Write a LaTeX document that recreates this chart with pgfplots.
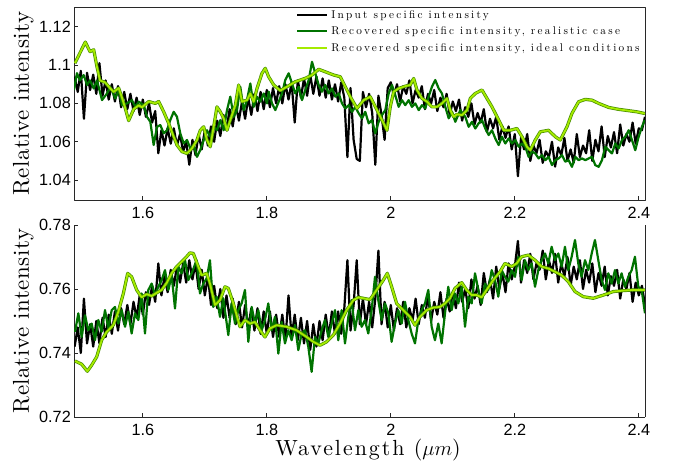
\documentclass[border=0pt]{standalone}
\usepackage{fontspec}
\usepackage{pgfplots}
\usepackage{pgfplotstable}
\pgfplotsset{compat=1.18}
\newfontfamily\tickfont{Liberation Sans}
\newfontfamily\legfont{lmroman10-regular.otf}[LetterSpace=20]
\newfontfamily\xlabfont{lmroman10-regular.otf}[LetterSpace=9]
\newfontfamily\ylabfont{lmroman10-regular.otf}[LetterSpace=2.5]
\definecolor{dkgreen}{RGB}{0,115,0}
\definecolor{ltgreen}{RGB}{165,235,0}
\definecolor{ltedge}{RGB}{70,140,0}
\definecolor{axgray}{RGB}{40,40,40}

\pgfplotstableread{
x y
1.490 1.094
1.495 1.086
1.500 1.097
1.505 1.072
1.510 1.096
1.515 1.087
1.520 1.095
1.525 1.085
1.530 1.101
1.535 1.084
1.540 1.092
1.545 1.082
1.550 1.090
1.555 1.081
1.560 1.089
1.565 1.078
1.570 1.086
1.575 1.077
1.580 1.085
1.585 1.076
1.590 1.083
1.595 1.074
1.600 1.082
1.605 1.073
1.610 1.080
1.615 1.070
1.620 1.076
1.625 1.054
1.630 1.066
1.635 1.058
1.640 1.067
1.645 1.059
1.650 1.067
1.655 1.058
1.660 1.064
1.665 1.055
1.670 1.060
1.675 1.048
1.680 1.061
1.685 1.053
1.690 1.064
1.695 1.056
1.700 1.066
1.705 1.058
1.710 1.068
1.715 1.060
1.720 1.071
1.725 1.063
1.730 1.074
1.735 1.066
1.740 1.077
1.745 1.068
1.750 1.079
1.755 1.071
1.760 1.081
1.765 1.072
1.770 1.083
1.775 1.074
1.780 1.085
1.785 1.076
1.790 1.086
1.795 1.077
1.800 1.087
1.805 1.078
1.810 1.088
1.815 1.080
1.820 1.089
1.825 1.080
1.830 1.090
1.835 1.082
1.840 1.091
1.845 1.070
1.850 1.092
1.855 1.083
1.860 1.093
1.865 1.084
1.870 1.095
1.875 1.085
1.880 1.094
1.885 1.084
1.890 1.093
1.895 1.083
1.900 1.092
1.905 1.082
1.910 1.090
1.915 1.081
1.920 1.091
1.925 1.083
1.930 1.052
1.935 1.088
1.940 1.061
1.945 1.051
1.950 1.050
1.955 1.086
1.960 1.078
1.965 1.085
1.970 1.075
1.975 1.048
1.980 1.084
1.985 1.074
1.990 1.061
1.995 1.088
2.000 1.091
2.005 1.084
2.010 1.090
2.015 1.081
2.020 1.089
2.025 1.085
2.030 1.092
2.035 1.080
2.040 1.087
2.045 1.083
2.050 1.089
2.055 1.077
2.060 1.085
2.065 1.080
2.070 1.087
2.075 1.076
2.080 1.083
2.085 1.078
2.090 1.085
2.095 1.074
2.100 1.081
2.105 1.076
2.110 1.082
2.115 1.071
2.120 1.078
2.125 1.073
2.130 1.080
2.135 1.069
2.140 1.075
2.145 1.070
2.150 1.077
2.155 1.065
2.160 1.072
2.165 1.067
2.170 1.073
2.175 1.061
2.180 1.068
2.185 1.062
2.190 1.068
2.195 1.056
2.200 1.064
2.205 1.042
2.210 1.062
2.215 1.056
2.220 1.064
2.225 1.050
2.230 1.058
2.235 1.054
2.240 1.061
2.245 1.049
2.250 1.055
2.255 1.052
2.260 1.060
2.265 1.047
2.270 1.057
2.275 1.053
2.280 1.062
2.285 1.050
2.290 1.056
2.295 1.049
2.300 1.064
2.305 1.052
2.310 1.058
2.315 1.054
2.320 1.066
2.325 1.050
2.330 1.061
2.335 1.055
2.340 1.068
2.345 1.052
2.350 1.063
2.355 1.057
2.360 1.065
2.365 1.054
2.370 1.069
2.375 1.058
2.380 1.064
2.385 1.060
2.390 1.070
2.395 1.059
2.400 1.067
2.405 1.066
2.410 1.073
}\inputTop

\pgfplotstableread{
x y
1.4890 1.0870
1.4938 1.0958
1.4987 1.0920
1.5046 1.0948
1.5100 1.0896
1.5148 1.0920
1.5208 1.0878
1.5261 1.0920
1.5342 1.0817
1.5422 1.0852
1.5475 1.0887
1.5556 1.0826
1.5611 1.0870
1.5664 1.0791
1.5745 1.0800
1.5825 1.0817
1.5879 1.0782
1.5934 1.0809
1.6014 1.0791
1.6067 1.0730
1.6121 1.0704
1.6175 1.0583
1.6229 1.0678
1.6282 1.0687
1.6337 1.0644
1.6390 1.0660
1.6443 1.0713
1.6498 1.0756
1.6551 1.0730
1.6604 1.0644
1.6659 1.0591
1.6713 1.0609
1.6766 1.0565
1.6821 1.0583
1.6874 1.0521
1.6927 1.0557
1.6982 1.0609
1.7035 1.0660
1.7088 1.0626
1.7143 1.0678
1.7196 1.0660
1.7250 1.0713
1.7304 1.0660
1.7358 1.0765
1.7411 1.0835
1.7466 1.0730
1.7519 1.0765
1.7572 1.0887
1.7627 1.0765
1.7680 1.0817
1.7734 1.0904
1.7788 1.0782
1.7842 1.0835
1.7895 1.0809
1.7950 1.0852
1.8003 1.0800
1.8030 1.0861
1.8084 1.0800
1.8137 1.0765
1.8192 1.0809
1.8245 1.0852
1.8298 1.0922
1.8353 1.0957
1.8406 1.0904
1.8459 1.0852
1.8514 1.0887
1.8567 1.0817
1.8621 1.0870
1.8676 1.0922
1.8729 1.1017
1.8782 1.0957
1.8837 1.0896
1.8890 1.0861
1.8943 1.0896
1.8998 1.0852
1.9051 1.0878
1.9105 1.0835
1.9159 1.0852
1.9213 1.0800
1.9266 1.0774
1.9321 1.0791
1.9374 1.0756
1.9427 1.0782
1.9482 1.0748
1.9535 1.0722
1.9588 1.0756
1.9643 1.0696
1.9696 1.0713
1.9750 1.0644
1.9804 1.0704
1.9858 1.0739
1.9911 1.0765
1.9966 1.0852
2.0019 1.0896
2.0072 1.0843
2.0127 1.0782
2.0180 1.0817
2.0234 1.0791
2.0288 1.0817
2.0342 1.0782
2.0395 1.0800
2.0450 1.0765
2.0503 1.0791
2.0556 1.0774
2.0611 1.0835
2.0664 1.0887
2.0717 1.0922
2.0772 1.0878
2.0825 1.0852
2.0879 1.0782
2.0934 1.0722
2.0987 1.0756
2.1040 1.0704
2.1121 1.0765
2.1201 1.0730
2.1256 1.0678
2.1309 1.0704
2.1363 1.0669
2.1417 1.0696
2.1471 1.0713
2.1524 1.0669
2.1579 1.0635
2.1632 1.0660
2.1685 1.0617
2.1740 1.0583
2.1793 1.0626
2.1847 1.0591
2.1901 1.0617
2.1955 1.0591
2.2008 1.0609
2.2063 1.0574
2.2116 1.0591
2.2169 1.0574
2.2224 1.0521
2.2277 1.0548
2.2331 1.0539
2.2385 1.0513
2.2438 1.0530
2.2492 1.0504
2.2546 1.0521
2.2600 1.0478
2.2653 1.0504
2.2708 1.0513
2.2761 1.0530
2.2814 1.0496
2.2869 1.0504
2.2922 1.0469
2.2976 1.0521
2.3030 1.0504
2.3084 1.0513
2.3137 1.0504
2.3192 1.0513
2.3245 1.0521
2.3298 1.0478
2.3353 1.0469
2.3406 1.0504
2.3459 1.0574
2.3514 1.0556
2.3567 1.0539
2.3621 1.0591
2.3675 1.0565
2.3729 1.0609
2.3782 1.0626
2.3837 1.0660
2.3890 1.0609
2.3943 1.0556
2.3998 1.0626
2.4051 1.0678
2.4095 1.0713
}\realTop

\pgfplotstableread{
x y
1.4906 1.1010
1.5072 1.1120
1.5148 1.1070
1.5208 1.1080
1.5261 1.0990
1.5309 1.0920
1.5390 1.0910
1.5471 1.0880
1.5530 1.0860
1.5611 1.0880
1.5664 1.0830
1.5712 1.0780
1.5772 1.0710
1.5853 1.0770
1.5934 1.0790
1.5987 1.0780
1.6095 1.0810
1.6201 1.0800
1.6256 1.0810
1.6337 1.0756
1.6417 1.0696
1.6498 1.0626
1.6551 1.0583
1.6632 1.0548
1.6713 1.0539
1.6793 1.0565
1.6874 1.0609
1.6927 1.0660
1.6982 1.0678
1.7035 1.0609
1.7088 1.0574
1.7143 1.0678
1.7196 1.0782
1.7250 1.0756
1.7304 1.0722
1.7358 1.0660
1.7411 1.0713
1.7492 1.0791
1.7546 1.0896
1.7600 1.0809
1.7680 1.0817
1.7734 1.0852
1.7788 1.0809
1.7842 1.0878
1.7922 1.0957
1.7975 1.0983
1.8030 1.0939
1.8111 1.0896
1.8217 1.0867
1.8325 1.0887
1.8459 1.0913
1.8621 1.0931
1.8729 1.0948
1.8837 1.0978
1.8943 1.0965
1.9079 1.0948
1.9185 1.0939
1.9266 1.0887
1.9346 1.0835
1.9455 1.0774
1.9563 1.0817
1.9669 1.0835
1.9777 1.0765
1.9858 1.0713
1.9938 1.0660
1.9992 1.0783
2.0046 1.0861
2.0127 1.0878
2.0234 1.0890
2.0314 1.0896
2.0369 1.0930
2.0422 1.0870
2.0503 1.0826
2.0584 1.0809
2.0664 1.0782
2.0745 1.0782
2.0825 1.0800
2.0906 1.0826
2.0959 1.0765
2.1014 1.0730
2.1067 1.0743
2.1148 1.0739
2.1229 1.0765
2.1282 1.0826
2.1363 1.0852
2.1471 1.0870
2.1551 1.0826
2.1632 1.0782
2.1740 1.0713
2.1821 1.0660
2.1927 1.0660
2.2035 1.0669
2.2116 1.0626
2.2196 1.0574
2.2250 1.0556
2.2330 1.0609
2.2411 1.0652
2.2546 1.0660
2.2653 1.0626
2.2734 1.0609
2.2842 1.0678
2.2922 1.0748
2.3030 1.0809
2.3137 1.0821
2.3245 1.0817
2.3353 1.0800
2.3514 1.0779
2.3675 1.0769
2.3837 1.0762
2.3971 1.0756
2.4100 1.0747
}\idealTop

\pgfplotstableread{
x y
1.490 0.742
1.495 0.748
1.500 0.740
1.505 0.757
1.510 0.743
1.515 0.749
1.520 0.742
1.525 0.750
1.530 0.743
1.535 0.751
1.540 0.745
1.545 0.752
1.550 0.746
1.555 0.753
1.560 0.747
1.565 0.754
1.570 0.749
1.575 0.755
1.580 0.749
1.585 0.756
1.590 0.751
1.595 0.758
1.600 0.752
1.605 0.759
1.610 0.755
1.615 0.761
1.620 0.756
1.625 0.768
1.630 0.758
1.635 0.764
1.640 0.759
1.645 0.766
1.650 0.761
1.655 0.767
1.660 0.762
1.665 0.768
1.670 0.762
1.675 0.769
1.680 0.763
1.685 0.768
1.690 0.760
1.695 0.766
1.700 0.758
1.705 0.764
1.710 0.755
1.715 0.761
1.720 0.754
1.725 0.760
1.730 0.751
1.735 0.758
1.740 0.751
1.745 0.757
1.750 0.749
1.755 0.756
1.760 0.748
1.765 0.755
1.770 0.748
1.775 0.754
1.780 0.747
1.785 0.754
1.790 0.746
1.795 0.753
1.800 0.746
1.805 0.753
1.810 0.745
1.815 0.752
1.820 0.745
1.825 0.752
1.830 0.744
1.835 0.758
1.840 0.745
1.845 0.752
1.850 0.744
1.855 0.751
1.860 0.743
1.865 0.750
1.870 0.741
1.875 0.749
1.880 0.742
1.885 0.750
1.890 0.744
1.895 0.752
1.900 0.745
1.905 0.753
1.910 0.746
1.915 0.753
1.920 0.746
1.925 0.754
1.930 0.769
1.935 0.747
1.940 0.755
1.945 0.769
1.950 0.749
1.955 0.757
1.960 0.749
1.965 0.756
1.970 0.748
1.975 0.757
1.980 0.772
1.985 0.749
1.990 0.756
1.995 0.748
2.000 0.755
2.005 0.747
2.010 0.754
2.015 0.749
2.020 0.756
2.025 0.748
2.030 0.754
2.035 0.750
2.040 0.757
2.045 0.749
2.050 0.755
2.055 0.751
2.060 0.758
2.065 0.750
2.070 0.756
2.075 0.752
2.080 0.759
2.085 0.751
2.090 0.757
2.095 0.753
2.100 0.759
2.105 0.754
2.110 0.762
2.115 0.756
2.120 0.760
2.125 0.754
2.130 0.763
2.135 0.757
2.140 0.761
2.145 0.755
2.150 0.765
2.155 0.759
2.160 0.763
2.165 0.757
2.170 0.767
2.175 0.760
2.180 0.765
2.185 0.759
2.190 0.768
2.195 0.763
2.200 0.767
2.205 0.775
2.210 0.762
2.215 0.769
2.220 0.765
2.225 0.771
2.230 0.763
2.235 0.768
2.240 0.766
2.245 0.772
2.250 0.763
2.255 0.769
2.260 0.765
2.265 0.771
2.270 0.762
2.275 0.768
2.280 0.764
2.285 0.770
2.290 0.761
2.295 0.767
2.300 0.763
2.305 0.769
2.310 0.760
2.315 0.766
2.320 0.762
2.325 0.768
2.330 0.759
2.335 0.765
2.340 0.761
2.345 0.767
2.350 0.758
2.355 0.764
2.360 0.761
2.365 0.766
2.370 0.757
2.375 0.763
2.380 0.760
2.385 0.765
2.390 0.756
2.395 0.762
2.400 0.758
2.405 0.761
2.410 0.755
}\inputBot

\pgfplotstableread{
x y
1.4906 0.7466
1.4960 0.7524
1.5014 0.7450
1.5067 0.7518
1.5121 0.7471
1.5175 0.7492
1.5229 0.7440
1.5282 0.7503
1.5336 0.7466
1.5390 0.7534
1.5444 0.7477
1.5498 0.7534
1.5551 0.7544
1.5605 0.7492
1.5659 0.7534
1.5713 0.7482
1.5766 0.7529
1.5820 0.7461
1.5874 0.7524
1.5928 0.7503
1.5981 0.7586
1.6035 0.7461
1.6089 0.7597
1.6143 0.7617
1.6197 0.7581
1.6250 0.7607
1.6304 0.7628
1.6358 0.7659
1.6412 0.7597
1.6465 0.7643
1.6519 0.7539
1.6573 0.7670
1.6626 0.7649
1.6680 0.7690
1.6734 0.7628
1.6788 0.7649
1.6868 0.7690
1.6922 0.7586
1.6976 0.7617
1.7030 0.7633
1.7083 0.7690
1.7137 0.7544
1.7191 0.7576
1.7245 0.7513
1.7298 0.7571
1.7379 0.7456
1.7433 0.7555
1.7487 0.7492
1.7540 0.7534
1.7594 0.7555
1.7648 0.7597
1.7702 0.7435
1.7756 0.7544
1.7809 0.7492
1.7863 0.7534
1.7917 0.7471
1.7970 0.7503
1.8024 0.7555
1.8078 0.7471
1.8132 0.7513
1.8186 0.7398
1.8239 0.7497
1.8293 0.7430
1.8347 0.7471
1.8401 0.7440
1.8455 0.7487
1.8508 0.7409
1.8562 0.7461
1.8616 0.7471
1.8670 0.7419
1.8723 0.7341
1.8777 0.7450
1.8831 0.7430
1.8885 0.7471
1.8938 0.7503
1.8992 0.7450
1.9046 0.7492
1.9100 0.7534
1.9153 0.7440
1.9207 0.7534
1.9261 0.7430
1.9315 0.7513
1.9368 0.7565
1.9422 0.7471
1.9476 0.7534
1.9530 0.7482
1.9583 0.7503
1.9637 0.7461
1.9691 0.7534
1.9745 0.7638
1.9798 0.7565
1.9852 0.7503
1.9906 0.7555
1.9960 0.7524
2.0013 0.7435
2.0067 0.7492
2.0121 0.7534
2.0175 0.7492
2.0229 0.7560
2.0282 0.7503
2.0336 0.7461
2.0390 0.7430
2.0444 0.7503
2.0497 0.7534
2.0551 0.7555
2.0605 0.7597
2.0659 0.7482
2.0712 0.7440
2.0766 0.7492
2.0820 0.7430
2.0874 0.7524
2.0927 0.7607
2.0981 0.7534
2.1035 0.7586
2.1089 0.7555
2.1143 0.7607
2.1197 0.7482
2.1250 0.7576
2.1304 0.7555
2.1358 0.7649
2.1412 0.7597
2.1465 0.7555
2.1519 0.7617
2.1573 0.7597
2.1627 0.7659
2.1680 0.7628
2.1734 0.7576
2.1788 0.7659
2.1842 0.7638
2.1895 0.7623
2.1949 0.7659
2.2003 0.7638
2.2057 0.7701
2.2110 0.7628
2.2164 0.7690
2.2218 0.7659
2.2272 0.7680
2.2326 0.7607
2.2379 0.7659
2.2433 0.7690
2.2487 0.7711
2.2541 0.7680
2.2594 0.7732
2.2648 0.7690
2.2702 0.7711
2.2756 0.7670
2.2809 0.7732
2.2863 0.7659
2.2917 0.7701
2.2971 0.7753
2.3024 0.7680
2.3078 0.7638
2.3132 0.7690
2.3186 0.7659
2.3240 0.7711
2.3293 0.7753
2.3347 0.7690
2.3401 0.7628
2.3455 0.7597
2.3508 0.7649
2.3562 0.7617
2.3616 0.7659
2.3670 0.7617
2.3723 0.7649
2.3777 0.7607
2.3831 0.7638
2.3885 0.7659
2.3938 0.7701
2.3992 0.7607
2.4046 0.7597
2.4100 0.7524
}\realBot

\pgfplotstableread{
x y
1.4906 0.7375
1.5014 0.7365
1.5105 0.7343
1.5175 0.7362
1.5256 0.7388
1.5336 0.7440
1.5417 0.7466
1.5524 0.7487
1.5605 0.7529
1.5686 0.7586
1.5756 0.7649
1.5820 0.7638
1.5901 0.7597
1.5981 0.7574
1.6062 0.7584
1.6143 0.7578
1.6223 0.7588
1.6304 0.7597
1.6385 0.7619
1.6465 0.7649
1.6546 0.7670
1.6626 0.7685
1.6707 0.7701
1.6761 0.7713
1.6815 0.7711
1.6895 0.7670
1.6949 0.7643
1.7029 0.7649
1.7083 0.7617
1.7164 0.7550
1.7245 0.7565
1.7325 0.7607
1.7379 0.7602
1.7460 0.7555
1.7567 0.7482
1.7648 0.7503
1.7729 0.7492
1.7809 0.7497
1.7890 0.7471
1.7970 0.7450
1.8051 0.7477
1.8159 0.7487
1.8320 0.7482
1.8481 0.7471
1.8643 0.7450
1.8750 0.7435
1.8858 0.7424
1.8965 0.7435
1.9073 0.7456
1.9180 0.7492
1.9288 0.7534
1.9395 0.7565
1.9476 0.7574
1.9557 0.7571
1.9664 0.7567
1.9772 0.7597
1.9879 0.7628
1.9944 0.7649
2.0014 0.7607
2.0094 0.7555
2.0202 0.7534
2.0309 0.7513
2.0390 0.7487
2.0470 0.7513
2.0578 0.7534
2.0686 0.7542
2.0793 0.7544
2.0874 0.7555
2.0955 0.7571
2.1035 0.7602
2.1143 0.7620
2.1223 0.7597
2.1304 0.7581
2.1385 0.7581
2.1465 0.7574
2.1546 0.7597
2.1653 0.7628
2.1761 0.7654
2.1841 0.7680
2.1949 0.7670
2.2030 0.7680
2.2110 0.7701
2.2218 0.7706
2.2326 0.7690
2.2433 0.7670
2.2541 0.7664
2.2648 0.7654
2.2756 0.7643
2.2863 0.7623
2.2971 0.7592
2.3105 0.7576
2.3266 0.7571
2.3428 0.7581
2.3589 0.7592
2.3750 0.7595
2.3912 0.7597
2.4107 0.7597
}\idealBot

\pgfplotsset{
  panel/.style={
    scale only axis, width=571bp,
    xmin=1.489, xmax=2.41,
    xtick={1.6,1.8,2,2.2,2.4},
    tick align=inside, tick pos=left,
    major tick length=4bp,
    tick style={axgray, line width=0.8bp},
    axis line style={axgray, line width=0.9bp},
    ticklabel style={font=\tickfont\fontsize{16.3}{18}\selectfont},
    /pgf/number format/assume math mode=true,
    yticklabel style={inner sep=0pt, xshift=-3bp},
    xticklabel style={inner sep=0pt, yshift=-6.5bp},
    ylabel={Relative intensity},
    ylabel style={font=\ylabfont\fontsize{23}{26}\selectfont, at={(axis description cs:-0.1074,0.5)}, anchor=north, inner sep=0pt},
    line join=round,
  },
  inputline/.style={black, line width=2.2bp},
  realline/.style={dkgreen, line width=2.2bp},
}

\begin{document}
\begin{tikzpicture}
\path[use as bounding box] (-74bp,-459bp) rectangle (599bp,7bp);

\begin{axis}[panel, at={(0,0)}, anchor=north west, height=193bp,
  ymin=1.0296, ymax=1.1303, ytick={1.04,1.06,1.08,1.1,1.12},
  legend style={draw=none, fill=none, at={(rel axis cs:0,1)}, anchor=north west,
    xshift=222bp, yshift=-3bp, inner sep=0pt, row sep=6bp, column sep=3bp,
    nodes={inner sep=0pt, text height=8bp, text depth=2.5bp, anchor=base west},
    font=\legfont\fontsize{11.3}{13}\selectfont},
  legend cell align=left,
  legend image code/.code={\draw[#1] (0bp,3.5bp) -- (30bp,3.5bp);},
]
\addplot[inputline] table {\inputTop};
\addlegendentry{Input specific intensity}
\addplot[realline] table {\realTop};
\addlegendentry{Recovered specific intensity, realistic case}
\addplot[ltedge, line width=3.2bp, forget plot] table {\idealTop};
\addplot[ltgreen, line width=1.8bp] table {\idealTop};
\addlegendentry{Recovered specific intensity, ideal conditions}
\end{axis}

\begin{axis}[panel, at={(0,-218bp)}, anchor=north west, height=192bp,
  ymin=0.72, ymax=0.78, ytick={0.72,0.74,0.76,0.78},
  axis x line*=bottom, axis y line*=left,
  xlabel={Wavelength ($\mu m$)},
  xlabel style={font=\xlabfont\fontsize{22}{25}\selectfont, at={(axis description cs:0.515,-0.112)}, anchor=north, inner sep=0pt},
  after end axis/.code={\draw[axgray, line width=0.9bp] (rel axis cs:1,0) -- (rel axis cs:1,1);},
]
\addplot[inputline] table {\inputBot};
\addplot[realline] table {\realBot};
\addplot[ltedge, line width=3.2bp] table {\idealBot};
\addplot[ltgreen, line width=1.8bp] table {\idealBot};
\end{axis}
\end{tikzpicture}
\end{document}
